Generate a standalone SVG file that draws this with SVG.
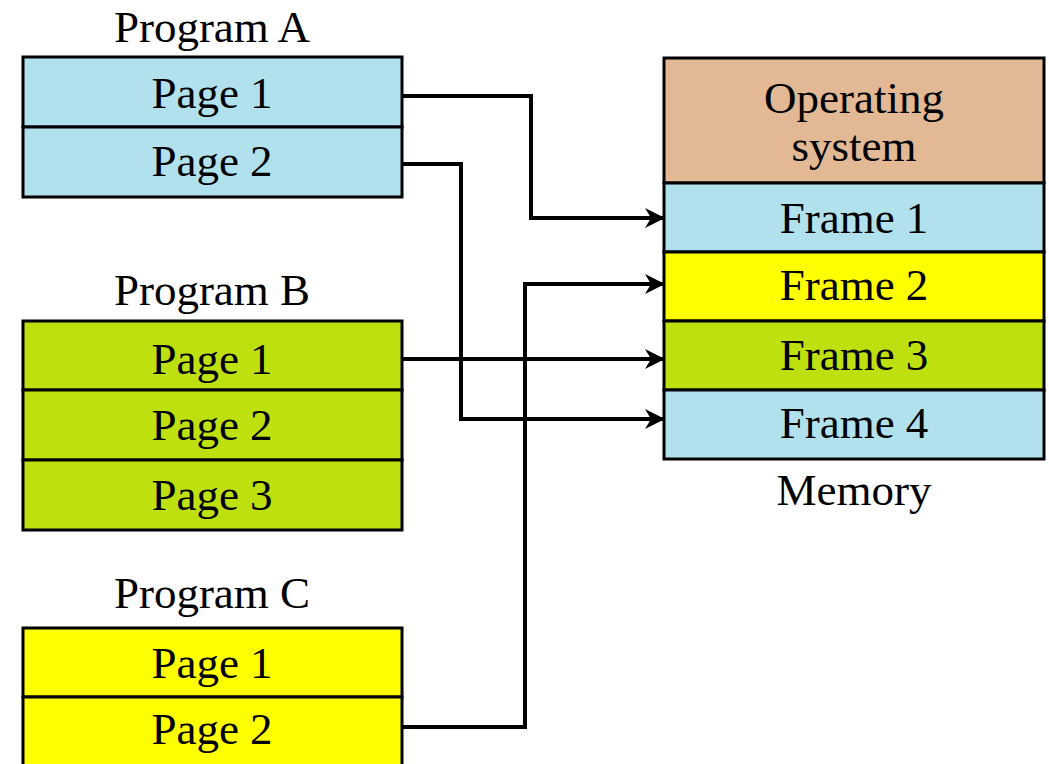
<svg xmlns="http://www.w3.org/2000/svg" width="1049" height="764" viewBox="0 0 1049 764">
  <style>
    text { font-family: "Liberation Serif", "Times New Roman", serif; font-size: 45px; fill: #000; text-anchor: middle; }
    .cell { stroke: #000; stroke-width: 3; }
    .blue { fill: #B1E1ED; }
    .green { fill: #BFE00F; }
    .yellow { fill: #FFFF00; }
    .os { fill: #E2B994; }
    .wire { fill: none; stroke: #000; stroke-width: 4; marker-end: url(#arrow); }
  </style>
  <defs>
    <marker id="arrow" viewBox="0 0 20 20" refX="19" refY="10" markerWidth="20" markerHeight="20" markerUnits="userSpaceOnUse" orient="auto">
      <path d="M0,0 L20,10 L0,20 L6,10 Z" fill="#000"/>
    </marker>
  </defs>
  <rect width="1049" height="764" fill="#fff"/>

  <!-- Program A -->
  <g id="programA">
    <text x="212" y="42">Program A</text>
    <rect class="cell blue" x="23" y="57" width="379" height="70"/>
    <text x="212" y="108">Page 1</text>
    <rect class="cell blue" x="23" y="127" width="379" height="70"/>
    <text x="212" y="176">Page 2</text>
  </g>

  <!-- Program B -->
  <g id="programB">
    <text x="212" y="305">Program B</text>
    <rect class="cell green" x="23" y="321" width="379" height="69"/>
    <text x="212" y="374">Page 1</text>
    <rect class="cell green" x="23" y="390" width="379" height="70"/>
    <text x="212" y="440">Page 2</text>
    <rect class="cell green" x="23" y="460" width="379" height="70"/>
    <text x="212" y="510">Page 3</text>
  </g>

  <!-- Program C -->
  <g id="programC">
    <text x="212" y="608">Program C</text>
    <rect class="cell yellow" x="23" y="628" width="379" height="69"/>
    <text x="212" y="678">Page 1</text>
    <rect class="cell yellow" x="23" y="697" width="379" height="72"/>
    <text x="212" y="744">Page 2</text>
  </g>

  <!-- Memory -->
  <g id="memory">
    <rect class="cell os" x="664" y="58" width="380" height="125"/>
    <text x="854" y="113">Operating</text>
    <text x="854" y="161">system</text>
    <rect class="cell blue" x="664" y="183" width="380" height="69"/>
    <text x="854" y="233">Frame 1</text>
    <rect class="cell yellow" x="664" y="252" width="380" height="69"/>
    <text x="854" y="300">Frame 2</text>
    <rect class="cell green" x="664" y="321" width="380" height="69"/>
    <text x="854" y="370">Frame 3</text>
    <rect class="cell blue" x="664" y="390" width="380" height="69"/>
    <text x="854" y="438">Frame 4</text>
    <text x="854" y="505">Memory</text>
  </g>

  <!-- Page-to-frame mappings -->
  <g id="connectors">
    <path class="wire" d="M402,96 H531 V218 H664"/>
    <path class="wire" d="M402,164 H461 V419 H664"/>
    <path class="wire" d="M402,359 H664"/>
    <path class="wire" d="M402,727 H525 V284 H664"/>
  </g>
</svg>
